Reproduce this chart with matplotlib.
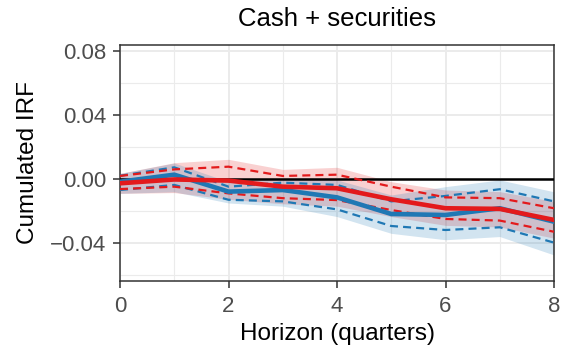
import matplotlib
matplotlib.use("Agg")
import matplotlib.pyplot as plt
from matplotlib.ticker import MultipleLocator, FuncFormatter

plt.rcParams['font.family'] = ['Liberation Sans', 'DejaVu Sans']

horizon = [0, 1, 2, 3, 4, 5, 6, 7, 8]

red_mean = [-0.0027, -0.0003, -0.0010, -0.0048, -0.0058, -0.0127, -0.0183, -0.0187, -0.0256]
red_hi68 = [0.0019, 0.0060, 0.0077, 0.0019, 0.0027, -0.0048, -0.0115, -0.0120, -0.0183]
red_lo68 = [-0.0063, -0.0048, -0.0090, -0.0120, -0.0132, -0.0194, -0.0250, -0.0260, -0.0330]
red_hi90 = [0.0035, 0.0102, 0.0123, 0.0060, 0.0073, -0.0017, -0.0069, -0.0079, -0.0140]
red_lo90 = [-0.0090, -0.0085, -0.0127, -0.0155, -0.0170, -0.0235, -0.0290, -0.0300, -0.0370]

blue_mean = [-0.0017, 0.0027, -0.0079, -0.0069, -0.0115, -0.0219, -0.0225, -0.0183, -0.0267]
blue_hi68 = [0.0020, 0.0073, -0.0048, -0.0023, -0.0037, -0.0140, -0.0106, -0.0064, -0.0140]
blue_lo68 = [-0.0069, -0.0037, -0.0130, -0.0140, -0.0190, -0.0294, -0.0319, -0.0302, -0.0398]
blue_hi90 = [0.0035, 0.0100, -0.0017, 0.0005, -0.0006, -0.0100, -0.0048, -0.0006, -0.0080]
blue_lo90 = [-0.0090, -0.0080, -0.0150, -0.0170, -0.0235, -0.0340, -0.0380, -0.0360, -0.0475]

title = "Cash + securities"
xlabel = "Horizon (quarters)"
ylabel = "Cumulated IRF"

RED = "#e31a1c"
BLUE = "#1f78b4"

W, H = 577, 351
fig = plt.figure(figsize=(W / 100, H / 100), dpi=100)
ax = fig.add_axes([120 / W, 1 - 281 / H, (554 - 120) / W, (281 - 45) / H])

DASH = (0, (3.6, 2.3))
ax.fill_between(horizon, red_lo90, red_hi90, color=RED, alpha=0.2, lw=0, zorder=2)
ax.fill_between(horizon, blue_lo90, blue_hi90, color=BLUE, alpha=0.2, lw=0, zorder=2)
ax.axhline(0, color="black", lw=1.8, zorder=3)
ax.plot(horizon, blue_hi68, color=BLUE, lw=1.6, ls=DASH, zorder=4)
ax.plot(horizon, blue_lo68, color=BLUE, lw=1.6, ls=DASH, zorder=4)
ax.plot(horizon, red_hi68, color=RED, lw=1.6, ls=DASH, zorder=4)
ax.plot(horizon, red_lo68, color=RED, lw=1.6, ls=DASH, zorder=4)
ax.plot(horizon, blue_mean, color=BLUE, lw=3.3, zorder=5)
ax.plot(horizon, red_mean, color=RED, lw=3.3, zorder=6)

ax.set_xlim(0, 8)
ax.set_ylim(-0.0638, 0.0838)
ax.xaxis.set_major_locator(MultipleLocator(2))
ax.xaxis.set_minor_locator(MultipleLocator(1))
ax.yaxis.set_major_locator(MultipleLocator(0.04))
ax.yaxis.set_minor_locator(MultipleLocator(0.02))
ax.grid(which="major", color="#ebebeb", lw=1.4, zorder=0)
ax.grid(which="minor", color="#ebebeb", lw=0.8, zorder=0)
ax.set_axisbelow(True)

ax.yaxis.set_major_formatter(FuncFormatter(
    lambda v, p: ("\u2212" if v < -1e-12 else "") + f"{abs(v):.2f}"))

ax.tick_params(which="major", length=5, width=1.1, color="#333333",
               labelcolor="#4d4d4d", labelsize=16)
ax.tick_params(axis="x", which="major", pad=5.8)
ax.tick_params(axis="y", which="major", pad=5.0)
ax.tick_params(which="minor", length=0)
for s in ax.spines.values():
    s.set_color("#333333")
    s.set_linewidth(1.1)

ax.set_title(title, fontsize=18.5, color="black", pad=14)
ax.set_xlabel(xlabel, fontsize=17.5, labelpad=4.5)
ax.set_ylabel(ylabel, fontsize=17.5, labelpad=8)

fig.savefig("out.png", dpi=100)
